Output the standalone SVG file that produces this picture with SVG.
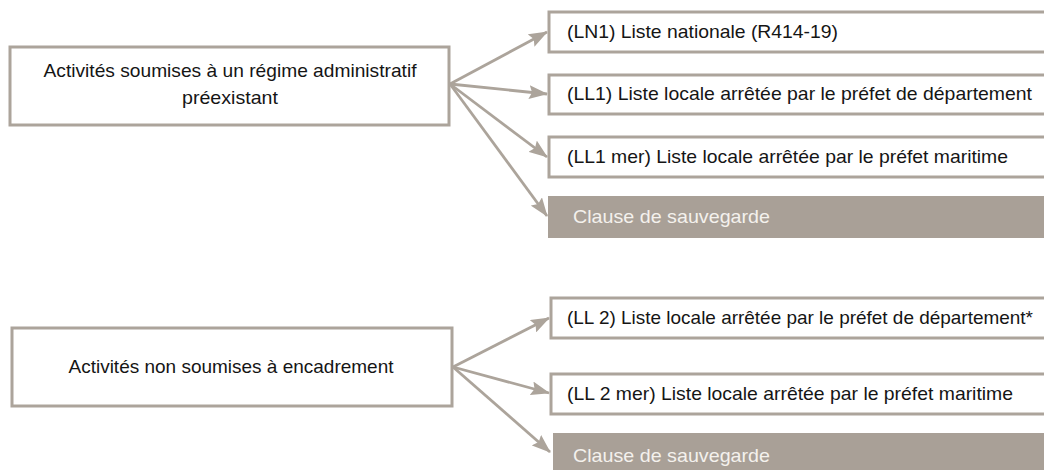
<svg xmlns="http://www.w3.org/2000/svg" width="1044" height="470" viewBox="0 0 1044 470">
<style>
.box{fill:#ffffff;stroke:#aca49b;stroke-width:3}
.fill{fill:#a9a097;stroke:none}
.t{font-family:"Liberation Sans",Arial,sans-serif;font-size:19px;fill:#151515}
.tw{font-family:"Liberation Sans",Arial,sans-serif;font-size:19px;fill:#f4f1ed}
.c{text-anchor:middle}
.arr{stroke:#aca49b;stroke-width:2.8;fill:none;marker-end:url(#ah)}
</style>
<defs>
<marker id="ah" markerUnits="userSpaceOnUse" markerWidth="19" markerHeight="14" refX="18" refY="7" orient="auto">
<path d="M0,0 L19,7 L0,14 L3,7 Z" fill="#aca49b"/>
</marker>
</defs>
<g id="connectors">
<line class="arr" x1="450" y1="84" x2="547" y2="32"/>
<line class="arr" x1="450" y1="84" x2="547" y2="94"/>
<line class="arr" x1="450" y1="84" x2="547" y2="157"/>
<line class="arr" x1="450" y1="84" x2="547" y2="216"/>
<line class="arr" x1="453" y1="367" x2="549" y2="318"/>
<line class="arr" x1="453" y1="367" x2="549" y2="393"/>
<line class="arr" x1="453" y1="367" x2="550" y2="452"/>
</g>
<g id="src1">
<rect class="box" x="10" y="47" width="439" height="78"/>
<text class="t c" x="230" y="77" textLength="373" lengthAdjust="spacingAndGlyphs">Activités soumises à un régime administratif</text>
<text class="t c" x="230" y="104" textLength="96" lengthAdjust="spacingAndGlyphs">préexistant</text>
</g>
<g id="ln1">
<rect class="box" x="549" y="12" width="520" height="40"/>
<text class="t" x="567" y="38" textLength="271" lengthAdjust="spacingAndGlyphs">(LN1) Liste nationale (R414-19)</text>
</g>
<g id="ll1">
<rect class="box" x="549" y="75" width="520" height="39"/>
<text class="t" x="567" y="100" textLength="465" lengthAdjust="spacingAndGlyphs">(LL1) Liste locale arrêtée par le préfet de département</text>
</g>
<g id="ll1mer">
<rect class="box" x="549" y="137" width="520" height="40"/>
<text class="t" x="567" y="163" textLength="441" lengthAdjust="spacingAndGlyphs">(LL1 mer) Liste locale arrêtée par le préfet maritime</text>
</g>
<g id="clause1">
<rect class="fill" x="548" y="196" width="500" height="42"/>
<text class="tw" x="573" y="223" textLength="197" lengthAdjust="spacingAndGlyphs">Clause de sauvegarde</text>
</g>
<g id="src2">
<rect class="box" x="12" y="328" width="440" height="78"/>
<text class="t c" x="231" y="373" textLength="325" lengthAdjust="spacingAndGlyphs">Activités non soumises à encadrement</text>
</g>
<g id="ll2">
<rect class="box" x="551" y="298" width="520" height="40"/>
<text class="t" x="567" y="324" textLength="466" lengthAdjust="spacingAndGlyphs">(LL 2) Liste locale arrêtée par le préfet de département*</text>
</g>
<g id="ll2mer">
<rect class="box" x="551" y="374" width="520" height="40"/>
<text class="t" x="567" y="400" textLength="446" lengthAdjust="spacingAndGlyphs">(LL 2 mer) Liste locale arrêtée par le préfet maritime</text>
</g>
<g id="clause2">
<rect class="fill" x="553" y="433" width="500" height="40"/>
<text class="tw" x="573" y="462" textLength="197" lengthAdjust="spacingAndGlyphs">Clause de sauvegarde</text>
</g>
</svg>
